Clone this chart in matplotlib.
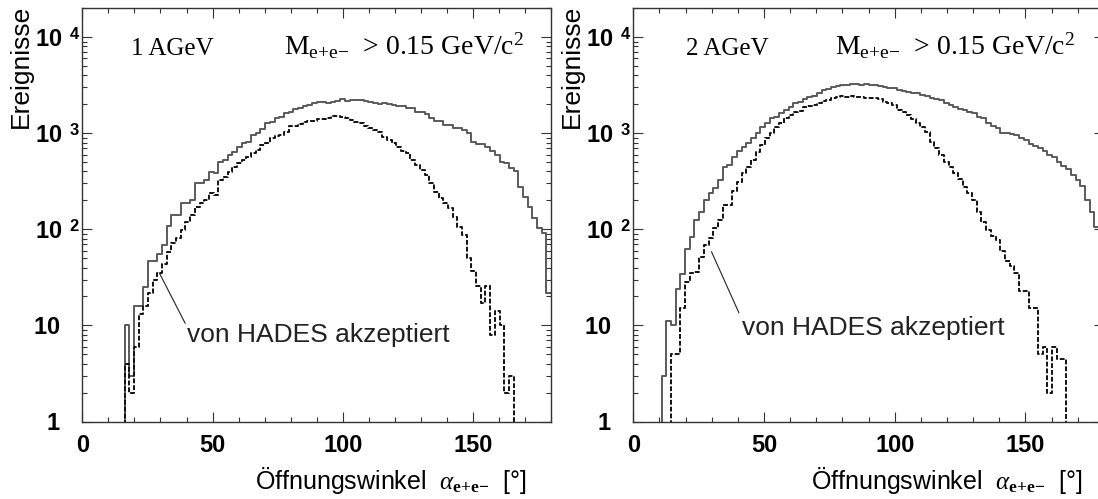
import numpy as np
import matplotlib
matplotlib.use("Agg")
import matplotlib.pyplot as plt
from matplotlib.ticker import FixedLocator, FixedFormatter, MultipleLocator, LogLocator, NullFormatter

plt.rcParams['font.family'] = ['Liberation Sans', 'DejaVu Sans']
plt.rcParams['mathtext.fontset'] = 'custom'
plt.rcParams['mathtext.rm'] = 'Liberation Serif'
plt.rcParams['mathtext.it'] = 'Liberation Serif:italic'
plt.rcParams['mathtext.bf'] = 'Liberation Sans:bold'
plt.rcParams['mathtext.sf'] = 'Liberation Serif:bold'

# Histogramm: 100 Bins zu je 1.8 Grad (0 .. 180)
angle_edges = np.linspace(0, 180, 101)

# 1 AGeV, alle Paare (durchgezogen)
counts_1agev_all = [
    0, 0, 0, 0, 0, 0, 0, 0, 0, 10,
    3, 16, 16, 25, 47, 47, 56, 69, 108, 141,
    141, 186, 186, 202, 301, 301, 326, 398, 390, 505,
    526, 593, 642, 724, 785, 816, 957, 1000, 1100, 1268,
    1318, 1430, 1485, 1610, 1675, 1774, 1816, 1920, 1965, 2046,
    2090, 2128, 2080, 2128, 2178, 2270, 2178, 2200, 2214, 2214,
    2180, 2090, 2046, 2013, 2080, 1990, 1965, 1940, 1920, 1816,
    1816, 1650, 1650, 1573, 1430, 1349, 1349, 1218, 1218, 1140,
    1140, 1080, 998, 816, 772, 772, 724, 657, 593, 505,
    486, 431, 408, 277, 218, 172, 130, 102, 91, 22,
]
# 1 AGeV, von HADES akzeptiert (gestrichelt)
counts_1agev_acc = [
    0, 0, 0, 0, 0, 0, 0, 0, 0, 4,
    2, 6, 13, 16, 22, 30, 35, 44, 58, 72,
    81, 98, 120, 141, 172, 186, 202, 237, 228, 326,
    352, 398, 448, 486, 526, 569, 617, 669, 754, 800,
    900, 935, 960, 1037, 1188, 1188, 1250, 1300, 1350, 1350,
    1406, 1406, 1452, 1500, 1524, 1463, 1430, 1380, 1318, 1268,
    1188, 1125, 1080, 1037, 920, 849, 785, 724, 653, 627,
    526, 467, 414, 367, 301, 246, 210, 186, 165, 135,
    106, 87, 50, 37, 26, 17, 26, 8, 14, 10,
    2, 3, 0, 0, 0, 0, 0, 0, 0, 0,
]
# 2 AGeV, alle Paare
counts_2agev_all = [
    0, 0, 0, 0, 0, 0, 3, 11, 10, 24,
    34, 63, 84, 125, 152, 202, 240, 267, 326, 448,
    467, 569, 657, 713, 796, 885, 1012, 1151, 1268, 1430,
    1485, 1610, 1742, 1887, 2080, 2100, 2254, 2363, 2440, 2600,
    2818, 2900, 3000, 3098, 3150, 3200, 3250, 3250, 3200, 3250,
    3200, 3150, 3100, 3000, 2933, 2933, 2850, 2772, 2700, 2642,
    2600, 2500, 2450, 2307, 2250, 2214, 2046, 1950, 1887, 1800,
    1742, 1650, 1610, 1485, 1450, 1268, 1188, 1125, 1012, 1000,
    980, 950, 885, 860, 780, 740, 700, 660, 600, 560,
    500, 460, 420, 370, 326, 280, 202, 150, 106, 45,
]
# 2 AGeV, von HADES akzeptiert
counts_2agev_acc = [
    0, 0, 0, 0, 0, 0, 0, 0, 5, 5,
    15, 28, 35, 36, 52, 69, 81, 102, 125, 179,
    180, 250, 313, 383, 448, 526, 642, 754, 885, 1012,
    1170, 1268, 1430, 1548, 1675, 1700, 1858, 1900, 1965, 2080,
    2150, 2200, 2300, 2400, 2420, 2400, 2420, 2380, 2400, 2350,
    2320, 2300, 2250, 2128, 2050, 1950, 1742, 1650, 1548, 1400,
    1268, 1150, 1037, 816, 697, 600, 505, 440, 383, 330,
    277, 240, 202, 152, 120, 98, 85, 77, 60, 47,
    42, 35, 23, 23, 15, 15, 5, 6, 2, 6,
    4.5, 4.5, 0, 0, 0, 0, 0, 0, 0, 0,
]

panels = [
    ("1 AGeV", counts_1agev_all, counts_1agev_acc),
    ("2 AGeV", counts_2agev_all, counts_2agev_acc),
]
ytick_vals = [1, 10, 100, 1000, 10000]
ytick_text = [r'$\mathbf{1}$', r'$\mathbf{10}$',
              r'$\mathbf{10}^{\ \ \mathbf{2}}$', r'$\mathbf{10}^{\ \ \mathbf{3}}$',
              r'$\mathbf{10}^{\ \ \mathbf{4}}$']

fig = plt.figure(figsize=(10.98, 4.99), dpi=100)
positions = [[0.0750, 0.1553, 0.4269, 0.8283], [0.5768, 0.1553, 0.4285, 0.8283]]
# Zeiger (Anfang, Spitze) und Textposition in Datenkoordinaten
pointer = [((39.5, 10.5), (29.5, 35.4), (40.2, 6.7)),
           ((40.4, 13.5), (29.9, 58.5), (41.6, 7.9))]
ylabel_x = [0.019, 0.521]
left_text_x = [0.104, 0.112]
right_text_x = [0.943, 0.938]
xlabel_x = [0.949, 0.956]

for i, (energy, all_counts, acc_counts) in enumerate(panels):
    ax = fig.add_axes(positions[i])
    ax.set_yscale('log')
    ax.step(angle_edges, np.append(all_counts, all_counts[-1]), where='post',
            color='#5a5a5a', lw=1.4)
    ax.step(angle_edges, np.append(acc_counts, acc_counts[-1]), where='post',
            color='#111111', lw=1.4, ls=(0, (2.5, 1.0)))
    ax.set_xlim(0, 180)
    ax.set_ylim(1, 2e4)

    ax.xaxis.set_major_locator(MultipleLocator(50))
    ax.xaxis.set_minor_locator(MultipleLocator(10))
    ax.yaxis.set_major_locator(FixedLocator(ytick_vals))
    ax.yaxis.set_major_formatter(FixedFormatter(ytick_text))
    ax.yaxis.set_minor_locator(LogLocator(base=10, subs=np.arange(2, 10)))
    ax.yaxis.set_minor_formatter(NullFormatter())
    ax.tick_params(which='both', direction='in', top=True, right=True,
                   color='#333333', width=0.8)
    ax.tick_params(which='major', length=7)
    ax.tick_params(which='minor', length=3.5)
    ax.tick_params(axis='x', labelsize=17, pad=9)
    ax.tick_params(axis='y', labelsize=17, pad=1.5)
    # 1 und 10 ohne Exponent: rechts buendig mit der Basis "10" der anderen
    yticks = ax.yaxis.get_major_ticks()
    yticks[0].set_pad(16)
    yticks[1].set_pad(16)
    for lab in ax.get_xticklabels():
        lab.set_fontweight('bold')
    for sp in ax.spines.values():
        sp.set_linewidth(1.0)
        sp.set_color('#333333')

    ax.text(left_text_x[i], 0.887, energy, transform=ax.transAxes,
            family='Liberation Serif', fontsize=18, va='baseline', ha='left')
    ax.text(right_text_x[i], 0.887,
            r'M$_{\mathrm{e{+}e{-}}}$  > 0.15 GeV/c$^{\mathrm{2}}$',
            transform=ax.transAxes, family='Liberation Serif', fontsize=20,
            va='baseline', ha='right')

    start, tip, label_pos = pointer[i]
    ax.annotate('', xy=tip, xytext=start,
                arrowprops=dict(arrowstyle='-', color='#222222', lw=0.8,
                                shrinkA=0, shrinkB=0))
    ax.text(label_pos[0], label_pos[1], 'von HADES akzeptiert', fontsize=19,
            va='baseline', ha='left', color='#222222')

    ax.set_xlabel(r'Öffnungswinkel  $\alpha_{\mathsf{e{+}e{-}}}$  [°]', fontsize=18,
                  ha='right', va='top')
    ax.xaxis.set_label_coords(xlabel_x[i], -0.105)
    fig.text(ylabel_x[i], 0.99, 'Ereignisse', rotation=90, fontsize=19,
             va='top', ha='center')

fig.savefig('out.png', dpi=100)
